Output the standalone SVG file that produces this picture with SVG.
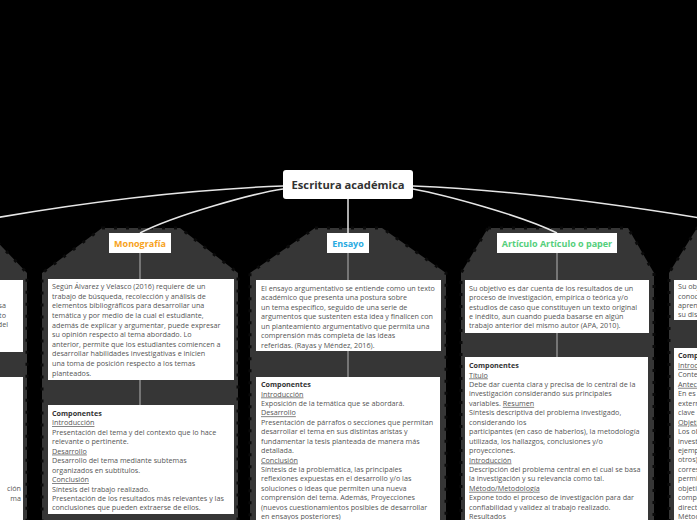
<svg xmlns="http://www.w3.org/2000/svg" width="697" height="520" viewBox="0 0 697 520">
<style>
.panel{fill:#363636;stroke:#0a0a0a;stroke-width:3;stroke-dasharray:3 9}
.box{fill:#ffffff}
.t{font-family:"Open Sans","Noto Sans",sans-serif;font-size:7.2px;fill:#555}
.b{font-weight:bold;fill:#333}
.u{text-decoration:underline}
.lbl{font-family:"Open Sans","Noto Sans",sans-serif;font-size:9px;font-weight:bold;text-anchor:middle}
.main{font-family:"Open Sans","Noto Sans",sans-serif;font-size:11.2px;font-weight:bold;fill:#333;text-anchor:middle}
.c{fill:none;stroke:#e6e6e6;stroke-width:1.5}
.v{fill:none;stroke:#a0a0a0;stroke-width:1.2}
</style>
<rect width="697" height="520" fill="#000"/>
<g id="panels">
<polygon class="panel" points="-200,228 -16,228 27,273 27,530 -200,530"/>
<polygon class="panel" points="102,228 180,228 238,273 238,530 42,530 42,273"/>
<polygon class="panel" points="315,228 382,228 446,273 446,530 250,530 250,273"/>
<polygon class="panel" points="488,228 628,228 654,273 654,530 461,530 461,273"/>
<polygon class="panel" points="697,228 900,228 900,530 669,530 669,273"/>
</g>
<g id="connectors">
<path class="c" d="M283,186 C180,190 60,205 -60,228"/>
<path class="c" d="M283,189 C255,193 175,215 140,233"/>
<path class="c" d="M348,199 L348,233"/>
<path class="c" d="M413,189 C445,195 520,215 557,233"/>
<path class="c" d="M413,186 C520,190 640,207 760,228"/>
<path class="v" d="M140,253 V279 M140,380 V405"/>
<path class="v" d="M348,253 V280 M348,351 V377"/>
<path class="v" d="M557,253 V280 M557,333 V357"/>
</g>
<g id="root">
<rect x="283" y="170" width="130" height="29" rx="3" fill="#fff"/>
<text class="main" x="348" y="189">Escritura académica</text>
</g>
<g id="left-node">
<rect class="box" x="-170" y="280" width="193" height="72"/>
<text class="t" text-anchor="end"><tspan x="6" y="308.4">sa</tspan><tspan x="6" y="318.4">to</tspan><tspan x="8" y="327.4">del</tspan></text>
<rect class="box" x="-170" y="377" width="193" height="153"/>
<text class="t" text-anchor="end"><tspan x="21" y="491.4">ción</tspan><tspan x="21" y="501.4">ma</tspan></text>
</g>
<g id="monografia">
<rect x="109" y="233" width="62" height="20" fill="#fff"/>
<text class="lbl" x="140" y="246.5" fill="#f7a21b">Monografía</text>
<rect class="box" x="48" y="279" width="186" height="101"/>
<text class="t">
<tspan x="52" y="289.1">Según Álvarez y Velasco (2016) requiere de un</tspan>
<tspan x="52" y="298.7">trabajo de búsqueda, recolección y análisis de</tspan>
<tspan x="52" y="308.3">elementos bibliográficos para desarrollar una</tspan>
<tspan x="52" y="318.0">temática y por medio de la cual el estudiante,</tspan>
<tspan x="52" y="327.6">además de explicar y argumentar, puede expresar</tspan>
<tspan x="52" y="337.2">su opinión respecto al tema abordado. Lo</tspan>
<tspan x="52" y="346.8">anterior, permite que los estudiantes comiencen a</tspan>
<tspan x="52" y="356.4">desarrollar habilidades investigativas e inicien</tspan>
<tspan x="52" y="366.1">una toma de posición respecto a los temas</tspan>
<tspan x="52" y="375.7">planteados.</tspan>
</text>
<rect class="box" x="48" y="405" width="186" height="109"/>
<text class="t">
<tspan x="52" y="415.7" class="b">Componentes</tspan>
<tspan x="52" y="425.2" class="u">Introducción</tspan>
<tspan x="52" y="434.6">Presentación del tema y del contexto que lo hace</tspan>
<tspan x="52" y="444.1">relevante o pertinente.</tspan>
<tspan x="52" y="453.6" class="u">Desarrollo</tspan>
<tspan x="52" y="463.1">Desarrollo del tema mediante subtemas</tspan>
<tspan x="52" y="472.5">organizados en subtítulos.</tspan>
<tspan x="52" y="482.0" class="u">Conclusión</tspan>
<tspan x="52" y="491.5">Síntesis del trabajo realizado.</tspan>
<tspan x="52" y="501.0">Presentación de los resultados más relevantes y las</tspan>
<tspan x="52" y="510.4">conclusiones que pueden extraerse de ellos.</tspan>
</text>
</g>
<g id="ensayo">
<rect x="327" y="233" width="42" height="20" fill="#fff"/>
<text class="lbl" x="348" y="246.5" fill="#29aae1">Ensayo</text>
<rect class="box" x="256" y="280" width="185" height="71"/>
<text class="t">
<tspan x="261" y="290.7">El ensayo argumentativo se entiende como un texto</tspan>
<tspan x="261" y="300.2">académico que presenta una postura sobre</tspan>
<tspan x="261" y="309.7">un tema específico, seguido de una serie de</tspan>
<tspan x="261" y="319.2">argumentos que sustenten esta idea y finalicen con</tspan>
<tspan x="261" y="328.7">un planteamiento argumentativo que permita una</tspan>
<tspan x="261" y="338.2">comprensión más completa de las ideas</tspan>
<tspan x="261" y="347.7">referidas. (Rayas y Méndez, 2016).</tspan>
</text>
<rect class="box" x="256" y="377" width="184" height="153"/>
<text class="t">
<tspan x="261" y="387.1" class="b">Componentes</tspan>
<tspan x="261" y="396.5" class="u">Introducción</tspan>
<tspan x="261" y="406.0">Exposición de la temática que se abordará.</tspan>
<tspan x="261" y="415.4" class="u">Desarrollo</tspan>
<tspan x="261" y="424.8">Presentación de párrafos o secciones que permitan</tspan>
<tspan x="261" y="434.3">desarrollar el tema en sus distintas aristas y</tspan>
<tspan x="261" y="443.7">fundamentar la tesis planteada de manera más</tspan>
<tspan x="261" y="453.1">detallada.</tspan>
<tspan x="261" y="462.5" class="u">Conclusión</tspan>
<tspan x="261" y="472.0">Síntesis de la problemática, las principales</tspan>
<tspan x="261" y="481.4">reflexiones expuestas en el desarrollo y/o las</tspan>
<tspan x="261" y="490.8">soluciones o ideas que permiten una nueva</tspan>
<tspan x="261" y="500.3">comprensión del tema. Además, Proyecciones</tspan>
<tspan x="261" y="509.7">(nuevos cuestionamientos posibles de desarrollar</tspan>
<tspan x="261" y="519.1">en ensayos posteriores)</tspan>
</text>
</g>
<g id="articulo">
<rect x="497" y="233" width="120" height="20" fill="#fff"/>
<text class="lbl" x="557" y="246.5" fill="#55cf7c">Artículo Artículo o paper</text>
<rect class="box" x="465" y="280" width="184" height="53"/>
<text class="t">
<tspan x="469" y="290.7">Su objetivo es dar cuenta de los resultados de un</tspan>
<tspan x="469" y="300.1">proceso de investigación, empírica o teórica y/o</tspan>
<tspan x="469" y="309.6">estudios de caso que constituyen un texto original</tspan>
<tspan x="469" y="319.0">e inédito, aun cuando pueda basarse en algún</tspan>
<tspan x="469" y="328.4">trabajo anterior del mismo autor (APA, 2010).</tspan>
</text>
<rect class="box" x="465" y="357" width="183" height="173"/>
<text class="t">
<tspan x="469" y="368.1" class="b">Componentes</tspan>
<tspan x="469" y="377.5" class="u">Título</tspan>
<tspan x="469" y="387.0">Debe dar cuenta clara y precisa de lo central de la</tspan>
<tspan x="469" y="396.4">investigación considerando sus principales</tspan>
<tspan x="469" y="405.9">variables. <tspan class="u">Resumen</tspan></tspan>
<tspan x="469" y="415.3">Síntesis descriptiva del problema investigado,</tspan>
<tspan x="469" y="424.7">considerando los</tspan>
<tspan x="469" y="434.2"> participantes (en caso de haberlos), la metodología</tspan>
<tspan x="469" y="443.6">utilizada, los hallazgos, conclusiones y/o</tspan>
<tspan x="469" y="453.1">proyecciones.</tspan>
<tspan x="469" y="462.5" class="u">Introducción</tspan>
<tspan x="469" y="471.9">Descripción del problema central en el cual se basa</tspan>
<tspan x="469" y="481.4">la investigación y su relevancia como tal.</tspan>
<tspan x="469" y="490.8" class="u">Método/Metodología</tspan>
<tspan x="469" y="500.3">Expone todo el proceso de investigación para dar</tspan>
<tspan x="469" y="509.7">confiabilidad y validez al trabajo realizado.</tspan>
<tspan x="469" y="519.1" class="u">Resultados</tspan>
</text>
</g>
<g id="right-node">
<rect class="box" x="674" y="280" width="60" height="40"/>
<text class="t">
<tspan x="678" y="289.1">Su obj</tspan>
<tspan x="678" y="298.5">conoc</tspan>
<tspan x="678" y="308.0">apren</tspan>
<tspan x="678" y="317.4">su dis</tspan>
</text>
<rect class="box" x="674" y="348" width="60" height="182"/>
<text class="t">
<tspan x="678" y="358.4" class="b">Comp</tspan>
<tspan x="678" y="367.9" class="u">Introd</tspan>
<tspan x="678" y="377.3">Conte</tspan>
<tspan x="678" y="386.8" class="u">Antec</tspan>
<tspan x="678" y="396.2">En es</tspan>
<tspan x="678" y="405.7">extern</tspan>
<tspan x="678" y="415.1">clave</tspan>
<tspan x="678" y="424.6" class="u">Objeti</tspan>
<tspan x="678" y="434.0">Los ob</tspan>
<tspan x="678" y="443.5">invest</tspan>
<tspan x="678" y="452.9">ejemp</tspan>
<tspan x="678" y="462.4">otros)</tspan>
<tspan x="678" y="471.8">corres</tspan>
<tspan x="678" y="481.3">permi</tspan>
<tspan x="678" y="490.7">objeti</tspan>
<tspan x="678" y="500.2">compa</tspan>
<tspan x="678" y="509.6">direct</tspan>
<tspan x="678" y="519.1" class="u">Métod</tspan>
</text>
</g>
</svg>
